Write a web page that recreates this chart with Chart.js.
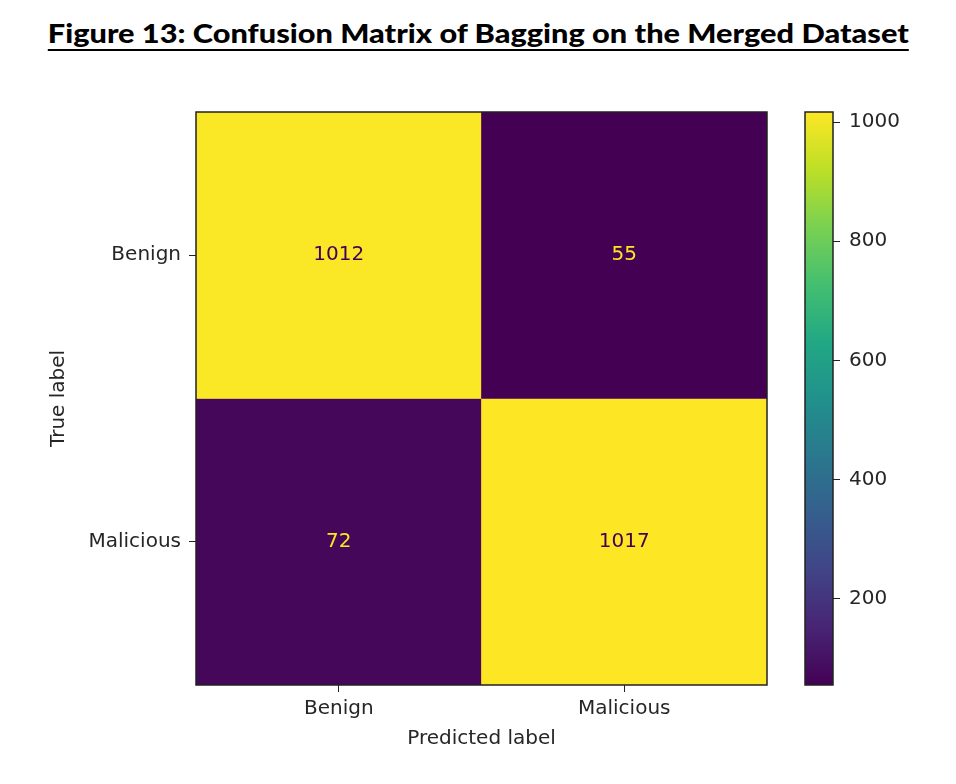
<!DOCTYPE html>
<html lang="en">
<head>
  <meta charset="UTF-8">
  <title>Confusion Matrix of Bagging</title>

  <!-- Chart.js -->
  <script src="https://cdn.jsdelivr.net/npm/chart.js"></script>

  <style>
    * {
      margin: 0;
      padding: 0;
      box-sizing: border-box;
    }

    body {
      width: 956px;
      height: 784px;
      background: #fff;
      position: relative;
      overflow: hidden;
    }

    .title {
      position: absolute;
      left: 0;
      top: 19px;
      width: 956px;
      text-align: center;
      font-family: 'Lato', sans-serif;
      font-weight: 900;
      font-size: 27px;
      line-height: 27px;
      color: #000;
    }

    .title span {
      display: inline-block;
      text-decoration: underline;
      text-decoration-thickness: 2px;
      text-underline-offset: 6px;
      transform-origin: center;
      white-space: nowrap;
    }

    .box {
      position: absolute;
      top: 0;
      height: 784px;
    }

    #matrixBox { left: 0; width: 800px; }
    #barBox { left: 790px; width: 166px; }
  </style>
</head>

<body>
  <div class="title"><span id="titleText">Figure 13: Confusion Matrix of Bagging on the Merged Dataset</span></div>

  <div class="box" id="matrixBox"><canvas id="matrixChart"></canvas></div>
  <div class="box" id="barBox"><canvas id="barChart"></canvas></div>

  <script>
    // data
    const trueLabels = ['Benign', 'Malicious'];
    const predLabels = ['Benign', 'Malicious'];
    const benignRow = [1012, 55];
    const maliciousRow = [72, 1017];
    const colorbarTicks = [200, 400, 600, 800, 1000];

    const rows = [benignRow, maliciousRow];
    const allValues = rows.flat();
    const vmin = Math.min(...allValues);
    const vmax = Math.max(...allValues);

    // viridis anchors, t = 0, 0.1, ... 1
    const viridis = ['#440154', '#482475', '#414487', '#355f8d', '#2a788e', '#21918c',
                     '#22a884', '#44bf70', '#7ad151', '#bddf26', '#fde725'];

    function hexToRgb(h) {
      return [1, 3, 5].map(i => parseInt(h.slice(i, i + 2), 16));
    }

    function viridisAt(t) {
      t = Math.max(0, Math.min(1, t));
      const p = t * (viridis.length - 1);
      const i = Math.min(Math.floor(p), viridis.length - 2);
      const f = p - i;
      const a = hexToRgb(viridis[i]), b = hexToRgb(viridis[i + 1]);
      const c = a.map((v, k) => Math.round(v + (b[k] - v) * f));
      return `rgb(${c[0]}, ${c[1]}, ${c[2]})`;
    }

    const norm = v => (v - vmin) / (vmax - vmin);
    const textFont = "'DejaVu Sans', sans-serif";
    const ink = '#262626';

    // fit the title to the width it has in the figure
    (function () {
      const span = document.getElementById('titleText');
      const w = span.getBoundingClientRect().width;
      span.style.transform = `scaleX(${861 / w})`;
    })();

    // frame around the plot area, like matplotlib spines
    const framePlugin = {
      id: 'frame',
      afterDraw(chart) {
        const { ctx, chartArea: a } = chart;
        ctx.save();
        ctx.strokeStyle = '#222';
        ctx.lineWidth = 1.5;
        ctx.strokeRect(a.left, a.top, a.right - a.left, a.bottom - a.top);
        ctx.restore();
      }
    };

    // count labels in the cells
    const cellTextPlugin = {
      id: 'cellText',
      afterDatasetsDraw(chart) {
        const { ctx } = chart;
        const thresh = (vmin + vmax) / 2;
        ctx.save();
        ctx.font = `20px ${textFont}`;
        ctx.textAlign = 'center';
        ctx.textBaseline = 'middle';
        chart.data.datasets.forEach((ds, di) => {
          chart.getDatasetMeta(di).data.forEach((bar, ci) => {
            const v = ds.counts[ci];
            ctx.fillStyle = v < thresh ? viridisAt(1) : viridisAt(0);
            ctx.fillText(String(v), bar.x, (bar.y + bar.base) / 2);
          });
        });
        ctx.restore();
      }
    };

    Chart.defaults.font.family = textFont;
    Chart.defaults.font.size = 20;
    Chart.defaults.color = ink;
    Chart.defaults.animation = false;

    new Chart(document.getElementById('matrixChart'), {
      type: 'bar',
      data: {
        labels: predLabels,
        datasets: rows.map((row, r) => ({
          label: trueLabels[r],
          counts: row,
          data: row.map(() => [r, r + 1]),
          backgroundColor: row.map(v => viridisAt(norm(v))),
          borderWidth: 0,
          barPercentage: 1,
          categoryPercentage: 1
        }))
      },
      options: {
        responsive: true,
        maintainAspectRatio: false,
        layout: { padding: { top: 112, right: 33, bottom: 0, left: 0 } },
        plugins: { legend: { display: false }, tooltip: { enabled: false } },
        scales: {
          x: {
            stacked: true,
            grid: { display: true, drawOnChartArea: false, offset: false, tickLength: 7, color: '#222' },
            border: { display: false },
            ticks: { padding: 5, color: ink },
            title: { display: true, text: 'Predicted label', color: ink, padding: { top: 0, bottom: 33 } },
            afterFit: s => { s.height = 99; }
          },
          y: {
            min: 0,
            max: rows.length,
            reverse: true,
            grid: { display: true, drawOnChartArea: false, tickLength: 7, color: '#222' },
            border: { display: false },
            afterBuildTicks: s => { s.ticks = trueLabels.map((_, i) => ({ value: i + 0.5 })); },
            ticks: { padding: 8, color: ink, callback: (v, i) => trueLabels[i] },
            title: { display: true, text: 'True label', color: ink, padding: { top: 47, bottom: 0 } },
            afterFit: s => { s.width = 196; }
          }
        }
      },
      plugins: [cellTextPlugin, framePlugin]
    });

    // colour bar
    new Chart(document.getElementById('barChart'), {
      type: 'bar',
      data: {
        labels: [''],
        datasets: [{
          data: [[vmin, vmax]],
          borderWidth: 0,
          barPercentage: 1,
          categoryPercentage: 1,
          backgroundColor: c => {
            const { chart } = c;
            const y = chart.scales.y;
            if (!chart.chartArea || !y) return viridisAt(0.5);
            const g = chart.ctx.createLinearGradient(0, y.getPixelForValue(vmin), 0, y.getPixelForValue(vmax));
            viridis.forEach((col, i) => g.addColorStop(i / (viridis.length - 1), col));
            return g;
          }
        }]
      },
      options: {
        responsive: true,
        maintainAspectRatio: false,
        layout: { padding: { top: 112, right: 0, bottom: 99, left: 15 } },
        plugins: { legend: { display: false }, tooltip: { enabled: false } },
        scales: {
          x: { display: false },
          y: {
            position: 'right',
            min: vmin,
            max: vmax,
            grid: { display: true, drawOnChartArea: false, tickLength: 7, color: '#222' },
            border: { display: false },
            afterBuildTicks: s => { s.ticks = colorbarTicks.map(v => ({ value: v })); },
            ticks: { padding: 9, color: ink, callback: v => String(v) },
            afterFit: s => { s.width = 123; }
          }
        }
      },
      plugins: [framePlugin]
    });
  </script>
</body>
</html>
